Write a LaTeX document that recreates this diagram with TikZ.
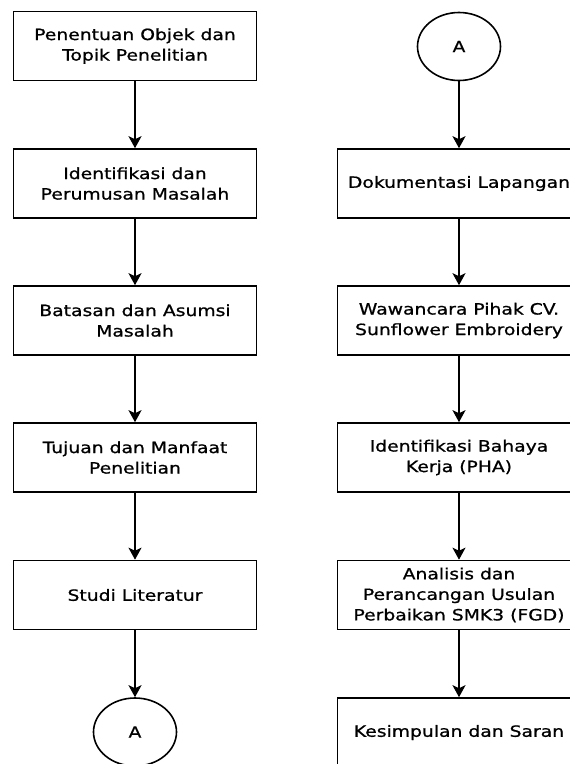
\documentclass[tikz,border=0pt]{standalone}
\usepackage{fontspec}
\setmainfont{DejaVu Sans}[FakeStretch=1.21,FakeBold=0.9]
\usetikzlibrary{arrows.meta,shapes.geometric}

\begin{document}
\begin{tikzpicture}[x=1pt,y=-1pt,->,>={Stealth[length=12pt,width=13pt,inset=3pt]},line width=1.6pt,
	squarednode/.style={rectangle,draw,minimum width=243pt,minimum height=69pt,inner sep=0pt,align=center,font=\fontsize{15.5}{20.5}\selectfont},
	roundnode/.style={ellipse,draw,minimum width=83pt,minimum height=68pt,inner sep=0pt,font=\fontsize{15.5}{20.5}\selectfont}]
		\useasboundingbox (0,0) rectangle (570,764);
		% kolom kiri
		\node [squarednode] (0) at (135, 46) {Penentuan Objek dan\\Topik Penelitian};
		\node [squarednode] (1) at (135, 183.5) {Identifikasi dan\\Perumusan Masalah};
		\node [squarednode] (2) at (135, 320.5) {Batasan dan Asumsi\\Masalah};
		\node [squarednode] (3) at (135, 457.5) {Tujuan dan Manfaat\\Penelitian};
		\node [squarednode] (4) at (135, 595) {Studi Literatur};
		\node [roundnode] (a1) at (135, 732) {A};
		% kolom kanan
		\node [roundnode] (a2) at (459, 46.5) {A};
		\node [squarednode] (5) at (459, 183.5) {Dokumentasi Lapangan};
		\node [squarednode] (6) at (459, 320.5) {Wawancara Pihak CV.\\Sunflower Embroidery};
		\node [squarednode] (7) at (459, 457.5) {Identifikasi Bahaya\\Kerja (PHA)};
		\node [squarednode] (8) at (459, 595) {Analisis dan\\Perancangan Usulan\\Perbaikan SMK3 (FGD)};
		\node [squarednode] (9) at (459, 732.5) {Kesimpulan dan Saran};
		\draw (0) to (1);
		\draw (1) to (2);
		\draw (2) to (3);
		\draw (3) to (4);
		\draw (4) to (a1);
		\draw (a2) to (5);
		\draw (5) to (6);
		\draw (6) to (7);
		\draw (7) to (8);
		\draw (8) to (9);
	\end{tikzpicture}
\end{document}
